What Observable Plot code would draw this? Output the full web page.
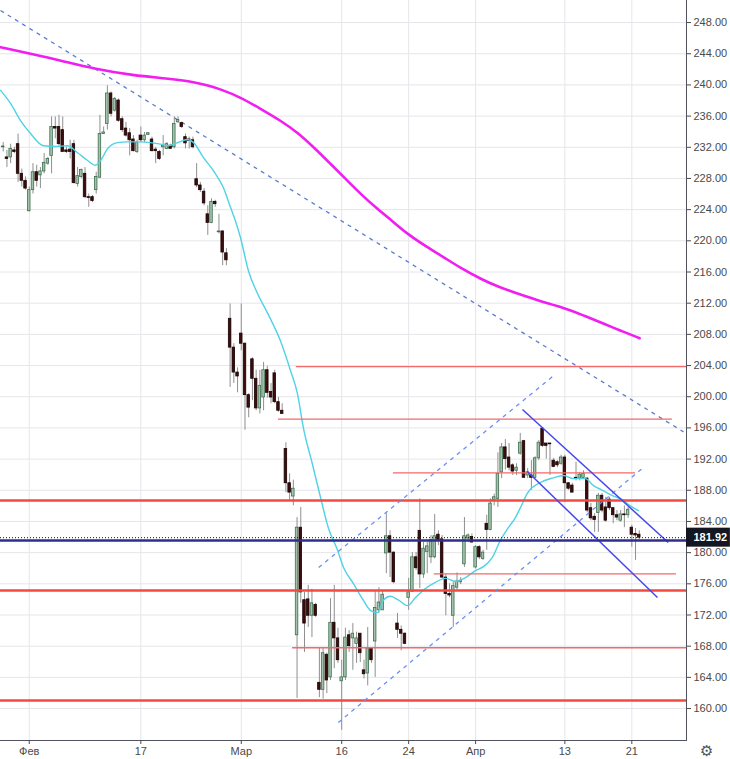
<!DOCTYPE html>
<html><head><meta charset="utf-8">
<script src="https://cdn.jsdelivr.net/npm/d3@7"></script>
<script src="https://cdn.jsdelivr.net/npm/@observablehq/plot@0.6"></script>
<style>
html,body{margin:0;padding:0;background:#fff;}
#chart{position:relative;width:730px;height:759px;}
#gear{position:absolute;left:700px;top:742px;font:15px 'DejaVu Sans';color:#50535e;}
</style></head><body><div id="chart"><span id="gear">⚙</span></div>
<script>
// 4-hour candles, index 0..171 (3 candles per trading day)
const openVals=[232.0,230.7,230.7,231.6,232.4,228.6,227.7,223.8,226.5,228.8,228.4,228.9,229.9,230.9,234.6,234.6,234.2,231.6,231.7,232.4,
227.3,228.2,228.6,225.6,225.6,226.5,228.1,233.7,235.0,238.9,236.7,238.0,235.6,234.4,233.8,233.0,231.4,233.5,232.9,233.6,
233.0,231.7,231.4,232.0,231.8,232.2,232.0,235.2,235.1,233.3,233.0,232.9,227.9,227.1,226.3,223.4,222.3,225.0,221.1,221.2,
218.4,210.0,206.3,203.1,208.1,206.8,200.2,204.8,202.3,198.5,199.9,203.4,200.6,203.0,199.3,198.2,193.3,188.9,187.2,169.4,
183.2,173.9,174.0,171.9,173.3,163.3,162.4,166.9,164.0,171.0,169.0,163.5,164.0,169.4,169.0,168.3,169.6,164.9,164.5,167.7,
168.6,172.6,172.6,179.9,182.1,180.0,170.9,170.1,169.6,174.2,175.0,179.4,182.8,177.2,180.1,179.4,179.4,182.3,181.7,176.8,
174.7,171.9,175.5,176.2,178.5,181.8,182.0,178.1,180.7,179.2,183.7,182.9,186.7,186.9,190.3,193.5,192.2,191.2,190.5,192.7,
194.3,189.9,189.9,189.6,192.1,195.9,194.0,194.0,191.8,191.6,191.4,192.2,188.9,188.6,189.6,189.5,189.6,189.5,185.7,184.6,
185.1,187.3,185.8,186.8,185.7,184.8,184.1,184.9,184.8,183.2,182.4,182.3];
const closeVals=[232.1,230.5,231.8,231.4,228.6,227.7,226.7,226.5,228.8,227.7,228.9,230.0,230.5,234.6,234.4,232.4,231.4,231.4,231.4,227.4,
228.3,229.1,225.6,225.5,225.1,228.2,233.7,233.9,238.9,236.3,238.2,235.4,234.2,233.5,232.9,231.5,232.6,232.9,233.5,233.8,
231.5,231.5,230.5,232.2,232.4,231.8,235.0,235.5,234.6,232.5,232.8,232.0,227.1,226.5,224.8,222.3,225.0,224.7,221.2,218.5,
217.5,206.3,203.1,202.6,206.8,200.2,198.6,202.3,198.5,201.4,203.4,200.5,199.9,199.3,198.2,197.8,188.9,187.7,188.2,183.2,
174.9,170.9,171.9,173.5,171.9,162.4,167.1,163.6,171.0,169.0,166.2,164.0,169.1,168.0,169.6,169.0,167.1,164.4,167.7,166.2,
172.9,173.6,174.6,182.1,180.0,176.2,170.1,169.6,168.3,174.9,179.4,178.0,177.2,180.5,180.8,181.6,182.1,181.6,176.8,174.7,
174.5,175.7,176.3,176.4,182.1,182.2,181.3,180.7,179.4,180.0,182.9,186.3,187.1,190.1,193.5,192.0,190.9,190.4,190.9,194.1,
189.6,190.3,189.6,192.1,194.1,193.7,193.7,193.9,191.0,191.2,192.2,188.9,188.2,187.7,189.5,190.0,190.1,185.4,184.4,184.2,
187.3,185.4,184.1,185.7,184.8,184.5,184.9,184.8,185.5,182.3,182.2,181.92];
const highVals=[232.6,231.6,232.4,232.0,233.7,229.2,228.2,226.9,229.9,229.7,229.4,231.2,230.7,235.9,235.9,236.1,235.9,232.0,232.9,232.9,
229.4,229.2,229.4,226.0,225.8,228.8,236.1,234.6,239.9,239.1,238.4,238.2,235.9,235.2,234.4,233.5,232.9,234.6,233.9,233.9,
233.3,232.0,231.6,233.5,232.6,232.4,235.9,235.9,235.2,233.7,233.3,233.3,229.9,227.5,226.7,224.5,225.4,225.2,223.4,221.3,
219.0,211.9,206.8,203.7,211.9,206.9,200.4,205.0,203.4,203.4,204.4,203.9,201.7,203.4,199.9,199.1,194.1,190.1,189.3,184.5,
185.8,174.9,175.8,175.3,173.5,167.8,167.7,167.1,174.1,175.8,170.3,166.2,170.3,170.0,170.9,169.8,169.6,166.2,170.4,167.8,
175.0,175.5,175.0,185.0,182.8,180.1,172.2,170.6,169.7,176.7,180.0,180.0,186.9,181.3,181.3,182.2,184.9,182.8,182.2,177.2,
176.0,176.2,177.4,176.8,184.5,182.4,182.4,180.9,180.9,180.3,184.8,186.9,187.5,192.8,194.0,194.5,194.0,191.4,191.4,195.3,
194.4,190.8,191.8,192.3,194.4,196.0,194.0,194.0,192.1,191.8,192.5,192.5,189.0,188.9,191.6,190.3,190.5,189.6,186.3,185.0,
187.6,187.6,187.1,187.1,185.8,185.4,185.4,186.0,185.8,183.5,183.1,182.8];
const lowVals=[231.4,229.4,229.9,231.2,227.5,226.9,226.5,223.7,226.0,226.9,226.7,228.6,229.7,228.6,233.1,232.0,231.4,231.2,230.5,227.3,
226.9,228.0,225.4,224.3,224.9,226.0,228.0,233.7,234.2,235.9,236.5,235.2,233.9,233.3,230.9,231.4,231.2,232.6,232.6,233.5,
231.4,229.9,230.3,230.9,231.7,231.8,231.8,235.1,234.4,231.8,231.8,231.8,226.8,226.2,224.5,220.7,222.2,224.3,220.9,216.8,
216.8,201.2,201.7,200.5,205.9,195.7,197.3,199.5,198.2,197.8,198.2,199.8,199.1,199.1,198.0,197.8,187.7,186.7,186.0,161.3,
173.5,167.2,170.4,169.1,171.7,161.4,161.2,161.9,163.6,165.1,165.8,157.2,163.6,167.2,164.9,165.8,165.9,163.8,162.9,165.8,
164.0,172.2,172.6,177.3,176.8,176.0,169.0,167.4,168.2,172.6,174.9,177.7,175.4,176.7,177.3,178.6,179.2,180.9,176.7,171.9,
174.2,170.4,175.1,175.9,178.1,181.3,181.2,177.9,179.1,179.0,180.3,182.8,186.0,185.8,189.5,190.6,190.5,189.9,189.9,192.5,
189.5,189.5,188.0,189.5,191.8,193.5,192.0,189.9,190.9,190.9,191.2,186.4,188.0,187.7,189.2,189.2,189.4,185.1,184.1,182.6,
182.6,185.1,183.9,185.4,183.7,184.1,183.9,183.2,184.4,180.7,179.0,181.6];

// Date axis (candle index of first bar of the day)
const tickIndex=[7,37,64,91,109,127,151,169];
const tickLabels=["Фев","17","Мар","16","24","Апр","13","21"];
const priceTicks=d3.range(160,249,4);

// Fast moving average (cyan)
const maFastIdx=[-0.7,2.0,4.7,7.3,10.8,14.1,17.3,20.0,22.7,24.8,26.2,28.0,30.7,33.4,36.9,39.6,42.3,44.2,46.9,49.5,51.2,53.8,56.5,59.2,61.1,62.4,63.8,65.9,68.4,71.1,74.5,77.2,79.1,80.7,83.1,85.3,87.4,89.9,91.5,94.2,96.8,98.7,100.6,102.2,104.1,106.3,108.7,110.8,113.5,116.2,118.9,121.6,124.3,127.0,129.1,131.5,133.7,135.8,137.7,139.1,140.9,144.4,147.9,150.6,153.3,156.5,158.7,161.1,163.8,166.5,168.6,170.8];
const maFastVal=[239.3,237.6,235.4,233.8,232.2,232.1,232.2,231.3,230.3,229.7,230.3,231.8,232.6,232.7,232.7,232.6,232.4,232.2,232.6,233.0,232.6,230.7,229.0,226.8,224.3,222.6,220.4,216.2,213.2,210.7,207.2,203.4,200.4,196.0,191.4,187.1,183.2,180.3,178.1,176.0,173.9,172.6,172.3,173.9,174.4,173.9,173.2,174.2,175.4,176.2,176.7,176.3,176.8,177.7,178.2,179.4,181.6,183.2,184.5,185.8,187.6,189.0,189.6,189.9,189.5,189.5,188.6,188.0,187.3,186.8,186.0,185.4];

// Slow moving average (magenta)
const maSlowIdx=[-0.73,7.34,15.4,24.27,35.03,44.17,50.35,54.92,58.41,63.79,69.17,74.54,79.03,83.49,87.98,92.47,96.05,100.54,105.0,108.6,114.0,118.4,122.9,128.3,132.8,139.0,144.4,150.7,156.1,161.5,165.9,171.1];
const maSlowVal=[244.84,243.99,243.13,242.07,241.21,240.82,240.45,239.95,239.45,238.42,236.94,235.44,233.93,232.01,229.88,227.74,226.03,224.1,222.39,220.9,219.18,217.9,216.54,215.13,214.14,213.11,212.25,211.41,210.42,209.35,208.49,207.51];

// Drawn levels
const strongLevels=[186.68,175.14,161.03];
const thinLevelVal=[203.87,197.14,190.24,177.28,167.8];
const thinLevelFrom=[78.8,74.0,104.9,115.9,77.8];
const thinLevelTo=[183.7,179.9,170.0,181.0,183.7];
const supportLevel=181.55;
const lastPrice=181.92;

// Trend lines: [idx1, price1, idx2, price2]
const trendLong=[[-0.73,249.55,182.9,195.49]];
const channelUp=[[84.8,178.09,147.7,202.59],[90.1,158.21,172.1,190.92]];
const channelDown=[[139.6,198.36,178.8,181.30],[140.9,190.41,175.9,174.24]];

const xMin=-0.73, xMax=183.7, xOuter=195.5;
const candles=openVals.map((o,i)=>({i,o,h:highVals[i],l:lowVals[i],c:closeVals[i],up:closeVals[i]>=o}));
const seg=a=>a.map(([x1,y1,x2,y2])=>({x1,y1,x2,y2}));
const fastMA=maFastIdx.map((x,k)=>({x,y:maFastVal[k]}));
const slowMA=maSlowIdx.map((x,k)=>({x,y:maSlowVal[k]}));
const thinLevels=thinLevelVal.map((y,k)=>({y,x1:thinLevelFrom[k],x2:thinLevelTo[k]}));

const axisColor="#50535e";
const chart=Plot.plot({
  width:730,height:759,
  marginLeft:0,marginRight:44,marginTop:0,marginBottom:19,
  style:{fontFamily:"'Liberation Sans', Arial, sans-serif",fontSize:"11px",background:"#fff",color:"#4a4a4a",overflow:"visible"},
  x:{type:"linear",domain:[xMin,xMax]},
  y:{type:"linear",domain:[155.9,250.83]},
  marks:[
    Plot.gridY(priceTicks,{stroke:"#e6e6ea",strokeOpacity:1}),
    Plot.gridX(tickIndex,{stroke:"#e6e6ea",strokeOpacity:1}),
    Plot.link(seg(trendLong),{x1:"x1",y1:"y1",x2:"x2",y2:"y2",stroke:"#5b7ccb",strokeWidth:1.3,strokeDasharray:"4,4.5"}),
    Plot.ruleX(candles,{x:"i",y1:"l",y2:"h",stroke:"#8f8f8f",strokeWidth:1}),
    Plot.rect(candles,{x1:d=>d.i-0.34,x2:d=>d.i+0.34,y1:"o",y2:"c",
      fill:d=>d.up?"#a3c2ac":"#3c0d0d",stroke:d=>d.up?"#3f6f50":"#1c0404",strokeWidth:0.8}),
    Plot.line(slowMA,{x:"x",y:"y",stroke:"#f01ef0",strokeWidth:2.6,curve:"basis"}),
    Plot.line(fastMA,{x:"x",y:"y",stroke:"#4fd2e4",strokeWidth:1.4,curve:"monotone-x"}),
    Plot.ruleY(thinLevels,{y:"y",x1:"x1",x2:"x2",stroke:"#f26a6a",strokeWidth:1.3}),
    Plot.ruleY(strongLevels,{stroke:"#f24a40",strokeWidth:2.6}),
    Plot.link(seg(channelUp),{x1:"x1",y1:"y1",x2:"x2",y2:"y2",stroke:"#6b8ff0",strokeWidth:1.3,strokeDasharray:"4,4.5"}),
    Plot.link(seg(channelDown),{x1:"x1",y1:"y1",x2:"x2",y2:"y2",stroke:"#4747ee",strokeWidth:1.5}),
    Plot.ruleY([supportLevel],{stroke:"#2e2e8e",strokeWidth:2.4}),
    Plot.ruleY([lastPrice],{stroke:"#131722",strokeWidth:1,strokeDasharray:"1,2"}),
    Plot.frame({anchor:"right",stroke:axisColor}),
    Plot.frame({anchor:"bottom",stroke:axisColor}),
    Plot.axisY(priceTicks,{anchor:"right",tickFormat:d=>d.toFixed(2),tickSize:4,tickPadding:3,color:"#4a4a4a",fontSize:11}),
    Plot.axisX(tickIndex,{anchor:"bottom",tickFormat:d=>tickLabels[tickIndex.indexOf(d)],tickSize:4,tickPadding:3,color:"#4a4a4a",fontSize:11}),
    // last price badge on the price scale
    Plot.rect([lastPrice],{x1:xMax,x2:xOuter,y1:d=>d,y2:d=>d,insetTop:-9.5,insetBottom:-9.5,fill:"#131722",clip:false}),
    Plot.text([lastPrice],{x:xMax,y:d=>d,dx:7,text:d=>d.toFixed(2),textAnchor:"start",fill:"#ffffff",fontWeight:"bold",fontSize:11,clip:false})
  ]
});
document.getElementById("chart").appendChild(chart);
</script></body></html>
